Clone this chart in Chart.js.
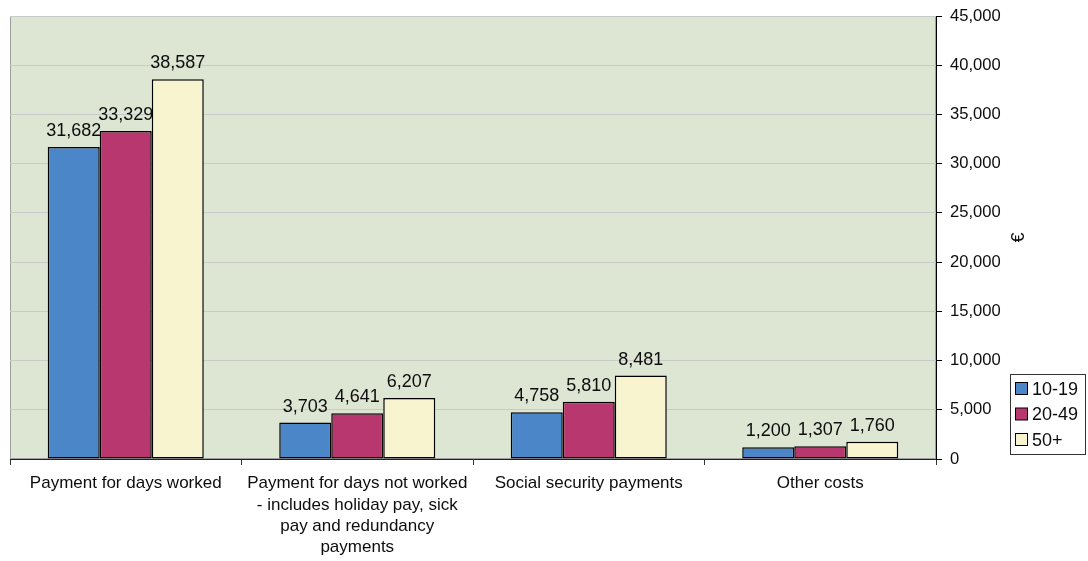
<!DOCTYPE html>
<html>
<head>
<meta charset="utf-8">
<script src="https://cdn.jsdelivr.net/npm/chart.js@4.4.1/dist/chart.umd.min.js"></script>
<style>
  html, body { margin: 0; padding: 0; background: #ffffff; }
  #wrap { width: 1088px; height: 561px; position: relative; }
</style>
</head>
<body>
<div id="wrap"><canvas id="chart" width="1088" height="561"></canvas></div>
<script>
// Labour cost components by enterprise size class (€ per employee)
const categories = [
  "Payment for days worked",
  ["Payment for days not worked", "- includes holiday pay, sick", "pay and redundancy", "payments"],
  "Social security payments",
  "Other costs"
];
const seriesNames = ["10-19", "20-49", "50+"];
const size10to19 = [31682, 3703, 4758, 1200];
const size20to49 = [33329, 4641, 5810, 1307];
const size50plus = [38587, 6207, 8481, 1760];
const yTicks = [0, 5000, 10000, 15000, 20000, 25000, 30000, 35000, 40000, 45000];
const yTitle = "€";

const FONT = "'Liberation Sans', Arial, sans-serif";
const TEXT = '#0d0d0d';
const fmt = v => v.toLocaleString('en-US');

const colors = ["#4a86c8", "#b8376f", "#f8f4d0"];

// Plot area fill and frame
const plotBackground = {
  id: 'plotBackground',
  beforeDraw(chart) {
    const { ctx, chartArea: a } = chart;
    ctx.save();
    ctx.fillStyle = '#dde5d3';
    ctx.fillRect(a.left, a.top, a.right - a.left, a.bottom - a.top);
    ctx.strokeStyle = '#a0a0a0';
    ctx.lineWidth = 1;
    ctx.strokeRect(a.left + 0.5, a.top + 0.5, a.right - a.left - 1, a.bottom - a.top - 1);
    ctx.restore();
  }
};

// Value labels above each bar
const valueLabels = {
  id: 'valueLabels',
  afterDatasetsDraw(chart) {
    const { ctx } = chart;
    ctx.save();
    ctx.font = '18px ' + FONT;
    ctx.fillStyle = TEXT;
    ctx.textAlign = 'center';
    ctx.textBaseline = 'alphabetic';
    chart.data.datasets.forEach((ds, i) => {
      chart.getDatasetMeta(i).data.forEach((bar, j) => {
        ctx.fillText(fmt(ds.data[j]), bar.x, bar.y - 11);
      });
    });
    ctx.restore();
  }
};

// Rotated axis title and boxed legend on the right
const sideDecor = {
  id: 'sideDecor',
  afterDraw(chart) {
    const { ctx, chartArea: a } = chart;
    ctx.save();
    // axis title
    ctx.font = '18px ' + FONT;
    ctx.fillStyle = TEXT;
    ctx.translate(1019, (a.top + a.bottom) / 2);
    ctx.rotate(-Math.PI / 2);
    ctx.textAlign = 'center';
    ctx.textBaseline = 'middle';
    ctx.fillText(yTitle, 0, 0);
    ctx.restore();

    // legend
    ctx.save();
    const bx = 1010.5, by = 374.5, bw = 75, bh = 80;
    ctx.strokeStyle = '#333';
    ctx.lineWidth = 1;
    ctx.fillStyle = '#fff';
    ctx.fillRect(bx, by, bw, bh);
    ctx.strokeRect(bx, by, bw, bh);
    ctx.font = '18px ' + FONT;
    ctx.textAlign = 'left';
    ctx.textBaseline = 'middle';
    chart.data.datasets.forEach((ds, i) => {
      const cy = 389 + i * 25.5;
      ctx.fillStyle = ds.backgroundColor;
      ctx.fillRect(1015.5, cy - 6.5, 12, 12);
      ctx.strokeStyle = '#000';
      ctx.strokeRect(1015.5, cy - 6.5, 12, 12);
      ctx.fillStyle = TEXT;
      ctx.fillText(ds.label, 1032, cy + 1);
    });
    ctx.restore();
  }
};

const datasets = [size10to19, size20to49, size50plus].map((vals, i) => ({
  label: seriesNames[i],
  data: vals,
  backgroundColor: colors[i],
  borderColor: '#000000',
  borderWidth: 1.5,
  borderSkipped: false,
  categoryPercentage: 0.674,
  barPercentage: 1.0
}));

new Chart(document.getElementById('chart'), {
  type: 'bar',
  data: { labels: categories, datasets },
  options: {
    responsive: false,
    animation: false,
    layout: { padding: { left: 10, top: 16, right: 0, bottom: 0 } },
    plugins: {
      legend: { display: false },
      tooltip: { enabled: false }
    },
    scales: {
      x: {
        grid: {
          offset: true,
          drawOnChartArea: false,
          drawTicks: true,
          tickLength: 6,
          tickColor: '#333'
        },
        border: { color: '#222', width: 1 },
        ticks: {
          color: TEXT,
          font: { family: FONT, size: 17, lineHeight: 1.25 },
          padding: 8,
          maxRotation: 0,
          autoSkip: false
        },
        afterFit(scale) { scale.height = 102; }
      },
      y: {
        position: 'right',
        min: 0,
        max: 45000,
        afterBuildTicks(scale) { scale.ticks = yTicks.map(v => ({ value: v })); },
        grid: {
          color: '#c9c9c9',
          lineWidth: 1,
          tickLength: 6,
          tickColor: '#000'
        },
        border: { color: '#000', width: 1 },
        ticks: {
          color: TEXT,
          font: { family: FONT, size: 16.6 },
          padding: 8,
          callback: v => fmt(v)
        },
        afterFit(scale) {
          scale.width = 152;
          scale.paddingTop = 0;
          scale.paddingBottom = 0;
        }
      }
    }
  },
  plugins: [plotBackground, valueLabels, sideDecor]
});
</script>
</body>
</html>
